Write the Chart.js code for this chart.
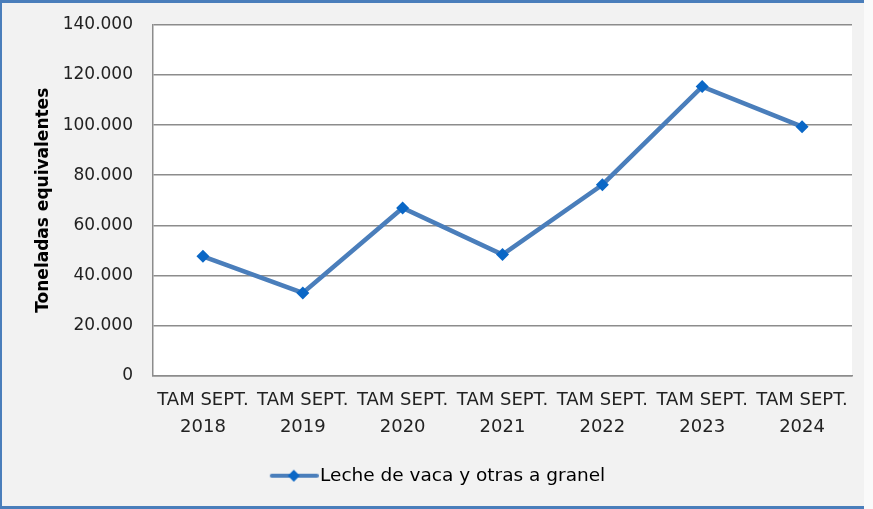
<!DOCTYPE html>
<html>
<head>
<meta charset="utf-8">
<script src="https://cdn.jsdelivr.net/npm/chart.js@4/dist/chart.umd.min.js"></script>
<style>
    body { margin: 0; background: #fafafa; }
    #frame {
        position: absolute; left: 0; top: 0;
        width: 862px; height: 503px;
        background: #f2f2f2;
        border-top: 3px solid #4a7ebb;
        border-left: 2px solid #4a7ebb;
        border-bottom: 3px solid #4a7ebb;
    }
    #wrap { position: absolute; left: 0; top: 0; width: 873px; height: 509px; }
</style>
</head>
<body>
<div id="frame"></div>
<div id="wrap"><canvas id="chart"></canvas></div>
<script>
// Datos del gráfico
const categorias = [
    ['TAM SEPT.', '2018'], ['TAM SEPT.', '2019'], ['TAM SEPT.', '2020'],
    ['TAM SEPT.', '2021'], ['TAM SEPT.', '2022'], ['TAM SEPT.', '2023'],
    ['TAM SEPT.', '2024']
];
const lecheGranel = [47600, 33000, 66900, 48300, 76200, 115400, 99400];
const serieNombre = 'Leche de vaca y otras a granel';
const ejeY = { min: 0, max: 140000, paso: 20000, titulo: 'Toneladas equivalentes' };

const colorLinea = '#4a7ebb';
const colorMarca = '#0a67c6';
const fuente = 'DejaVu Sans';

// icono de la leyenda: línea con rombo (margen transparente a la izquierda)
function legendIcon() {
    const c = document.createElement('canvas');
    c.width = 80; c.height = 14;
    const g = c.getContext('2d');
    g.strokeStyle = colorLinea;
    g.lineWidth = 4;
    g.lineCap = 'round';
    g.beginPath(); g.moveTo(33, 7); g.lineTo(78, 7); g.stroke();
    g.fillStyle = colorMarca;
    g.beginPath();
    g.moveTo(55, 1); g.lineTo(61, 7); g.lineTo(55, 13); g.lineTo(49, 7);
    g.closePath(); g.fill();
    return c;
}

// fondo blanco del área de trazado
const plotBg = {
    id: 'plotBg',
    beforeDraw(chart) {
        const { ctx, chartArea: a } = chart;
        ctx.save();
        ctx.fillStyle = '#ffffff';
        ctx.fillRect(a.left, a.top, a.right - a.left, a.bottom - a.top);
        ctx.restore();
    }
};

const icon = legendIcon();

new Chart(document.getElementById('chart'), {
    type: 'line',
    data: {
        labels: categorias,
        datasets: [{
            label: serieNombre,
            data: lecheGranel,
            borderColor: colorLinea,
            borderWidth: 4.5,
            pointStyle: 'rectRot',
            pointRadius: 6.5,
            pointBackgroundColor: colorMarca,
            pointBorderColor: colorMarca,
            pointBorderWidth: 0,
            tension: 0
        }]
    },
    options: {
        responsive: true,
        maintainAspectRatio: false,
        animation: false,
        layout: { padding: { top: 25, right: 21, bottom: 14, left: 0 } },
        plugins: {
            tooltip: { enabled: false },
            legend: {
                position: 'bottom',
                labels: {
                    usePointStyle: true,
                    pointStyleWidth: 64,
                    boxHeight: 14,
                    padding: 10,
                    color: '#222',
                    font: { family: fuente, size: 18.5 },
                    generateLabels: (chart) => [{
                        text: serieNombre,
                        pointStyle: icon,
                        fillStyle: colorMarca,
                        strokeStyle: colorLinea,
                        lineWidth: 0,
                        datasetIndex: 0
                    }]
                }
            }
        },
        scales: {
            x: {
                offset: true,
                grid: { display: false, drawTicks: false },
                border: { color: '#8c8c8c', width: 1.5 },
                ticks: {
                    color: '#222',
                    padding: 11,
                    maxRotation: 0,
                    autoSkip: false,
                    font: { family: fuente, size: 18, lineHeight: 1.5 }
                },
                afterFit: (s) => { s.height = 81; }
            },
            y: {
                min: ejeY.min,
                max: ejeY.max,
                grid: { color: '#8c8c8c', lineWidth: 1.5, drawTicks: false },
                border: { color: '#8c8c8c', width: 1.5 },
                ticks: {
                    stepSize: ejeY.paso,
                    color: '#222',
                    padding: 20,
                    font: { family: fuente, size: 17 },
                    callback: (v) => v === 0 ? '0' : v.toLocaleString('es-ES', { useGrouping: true }).replace(/,/g, '.')
                },
                title: {
                    display: true,
                    text: ejeY.titulo,
                    color: '#000',
                    font: { family: fuente, size: 17, weight: 'bold' },
                    padding: { top: 33, bottom: 0 }
                },
                afterFit: (s) => { s.width = 153; s.paddingTop = 0; }
            }
        }
    },
    plugins: [plotBg]
});
</script>
</body>
</html>
